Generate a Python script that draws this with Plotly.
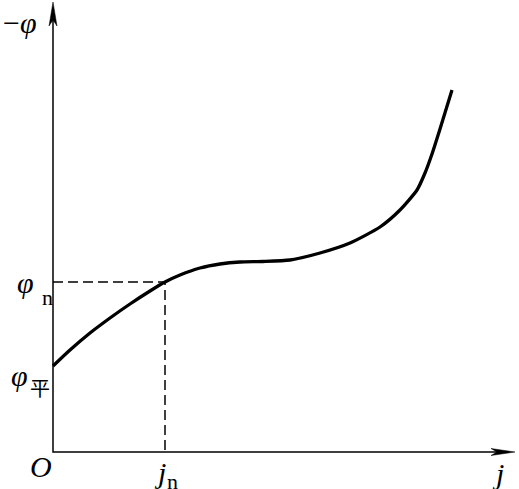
import plotly.graph_objects as go

# curve data (diagram units: j to the right, -phi upward)
j_values = [0, 17, 37, 57, 77, 97, 112, 127, 147, 167, 187, 210, 237, 267, 297, 327, 347, 364, 372, 379, 387, 399]
phi_values = [86, 102, 119, 134, 148, 161, 170, 177, 184, 188, 190, 190.5, 192, 199, 209, 225, 242, 262, 279, 298, 323, 362]
j_n = 112
phi_n = 170
phi_avg = 86
x_axis_end = 462
y_axis_end = 450

fig = go.Figure()

fig.add_trace(go.Scatter(x=j_values, y=phi_values, mode="lines",
                         line=dict(color="black", width=3.3, shape="spline", smoothing=0.6),
                         hoverinfo="skip"))
# dashed guides
fig.add_trace(go.Scatter(x=[0, j_n, j_n], y=[phi_n, phi_n, 0], mode="lines",
                         line=dict(color="black", width=1.5, dash="10px,5px"),
                         hoverinfo="skip"))
# axes
fig.add_trace(go.Scatter(x=[0, 0, x_axis_end - 12], y=[y_axis_end - 14, 0, 0], mode="lines",
                         line=dict(color="black", width=1.5), hoverinfo="skip"))

shapes = [
    dict(type="path", path=f"M {x_axis_end} 0 L {x_axis_end-24} 3.5 L {x_axis_end-18} 0 L {x_axis_end-24} -3.5 Z",
         fillcolor="black", line=dict(color="black", width=0.5)),
    dict(type="path", path=f"M 0 {y_axis_end} L -4 {y_axis_end-24} L 0 {y_axis_end-18} L 4 {y_axis_end-24} Z",
         fillcolor="black", line=dict(color="black", width=0.5)),
]

serif = "Liberation Serif, Times New Roman, serif"
font = dict(family=serif, size=30, color="black")
sub = dict(family=serif, size=22, color="black")
ann = [
    dict(x=-33, y=430, text="−<i>φ</i>", font=font),
    dict(x=-28, y=170, text="<i>φ</i>", font=font),
    dict(x=-6, y=155, text="n", font=sub),
    dict(x=-34, y=77, text="<i>φ</i>", font=font),
    dict(x=-13, y=65, text="平", font=dict(family="Noto Sans CJK SC", size=20, color="black")),
    dict(x=-12, y=-14, text="<i>O</i>", font=font),
    dict(x=j_n - 5, y=-20, text="<i>j</i>", font=font),
    dict(x=j_n + 7, y=-29, text="n", font=sub),
    dict(x=x_axis_end - 17, y=-21, text="<i>j</i>", font=font),
]
for a in ann:
    a["showarrow"] = False
    a["xref"] = "x"
    a["yref"] = "y"

fig.update_layout(
    width=519, height=489, margin=dict(l=0, r=0, t=0, b=0),
    paper_bgcolor="white", plot_bgcolor="white", showlegend=False,
    xaxis=dict(range=[-53, 466], visible=False, fixedrange=True),
    yaxis=dict(range=[-37, 452], visible=False, fixedrange=True),
    shapes=shapes, annotations=ann,
)
fig.write_html("out.html", config={"displayModeBar": False},
               post_script="document.body.style.margin='0';")
